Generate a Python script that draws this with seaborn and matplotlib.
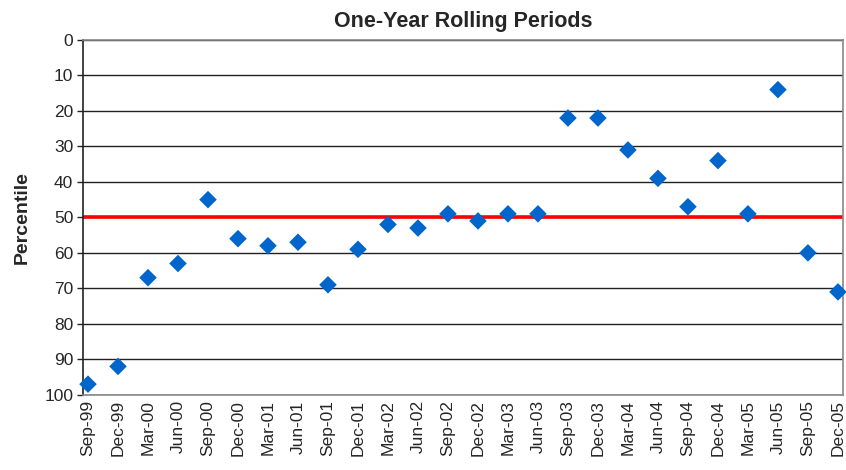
import numpy as np
import pandas as pd
import matplotlib
matplotlib.use('Agg')
import matplotlib.pyplot as plt
import seaborn as sns

# quarterly rolling-period labels and percentile ranks
periods = ['Sep-99', 'Dec-99', 'Mar-00', 'Jun-00', 'Sep-00', 'Dec-00', 'Mar-01', 'Jun-01',
           'Sep-01', 'Dec-01', 'Mar-02', 'Jun-02', 'Sep-02', 'Dec-02', 'Mar-03', 'Jun-03',
           'Sep-03', 'Dec-03', 'Mar-04', 'Jun-04', 'Sep-04', 'Dec-04', 'Mar-05', 'Jun-05',
           'Sep-05', 'Dec-05']
percentile = [97, 92, 67, 63, 45, 56, 58, 57, 69, 59, 52, 53, 49, 51, 49, 49,
              22, 22, 31, 39, 47, 34, 49, 14, 60, 71]
median_line = 50
y_ticks = [0, 10, 20, 30, 40, 50, 60, 70, 80, 90, 100]

df = pd.DataFrame({'period': periods, 'pos': np.arange(len(periods)), 'pct': percentile})

sns.set_style('white')
plt.rcParams['font.family'] = ['Liberation Sans', 'DejaVu Sans']

fig = plt.figure(figsize=(8.46, 4.70), dpi=100)
ax = fig.add_axes([0.098, 0.16, 0.8985, 0.755])

for t in y_ticks:
    ax.axhline(t, color='#222222', lw=1.0, zorder=1)
ax.axhline(median_line, color='#ff0000', lw=2.6, zorder=2)

sns.scatterplot(data=df, x='pos', y='pct', marker='D', color='#0066CC', s=80,
                edgecolor='none', ax=ax, zorder=3, clip_on=False)

ax.set_xlim(-0.17, len(periods) - 1 + 0.17)
ax.set_ylim(100, 0)
ax.set_yticks(y_ticks)
ax.set_xticks(df['pos'])
ax.set_xticklabels(periods, rotation=90, fontsize=12.5)
ax.tick_params(axis='y', labelsize=12.5, length=4, width=1, color='#222222', left=True, pad=3)
ax.tick_params(axis='x', length=0, pad=4)

for side in ['top', 'right', 'bottom']:
    ax.spines[side].set_color('#888888')
    ax.spines[side].set_linewidth(1.2)
ax.spines['left'].set_color('#222222')
ax.spines['left'].set_linewidth(1.2)

ax.set_xlabel('')
ax.set_ylabel('Percentile', fontsize=14, fontweight='bold', labelpad=10)
ax.set_title('One-Year Rolling Periods', fontsize=15.5, fontweight='bold', pad=9)

fig.savefig('out.png', dpi=100)
